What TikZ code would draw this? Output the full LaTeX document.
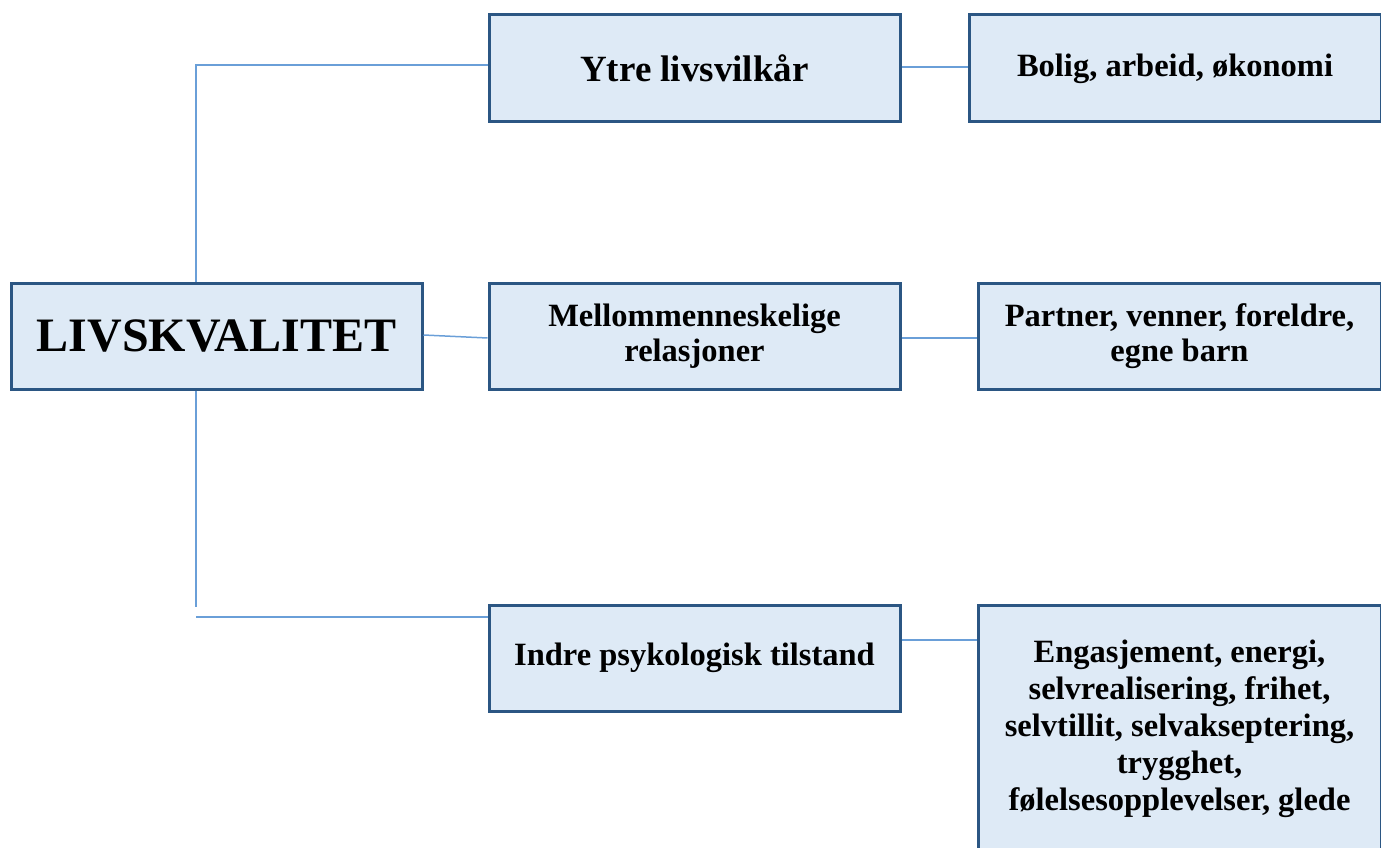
\documentclass[tikz,border=0pt]{standalone}
\usepackage{fontspec}
\setmainfont{Liberation Serif}
\definecolor{boxline}{HTML}{2B5683}
\definecolor{boxfill}{HTML}{DEEAF6}
\definecolor{linkblue}{HTML}{6A9FD8}
\tikzset{
  box/.style={rectangle,draw=boxline,fill=boxfill,line width=3pt,align=center,
    inner sep=0pt,font=\bfseries\fontsize{32.5}{35}\selectfont},
  link/.style={draw=linkblue,line width=1.5pt}
}
\begin{document}
\begin{tikzpicture}[x=1pt,y=-1pt]
        \useasboundingbox (0,0) rectangle (1381,848);

        \draw (216.5,336) node (livs) [box,minimum width=411pt,minimum height=106pt,font=\bfseries\fontsize{48}{54}\selectfont] {LIVSKVALITET};
        \draw (694.5,68.5) node (ytre) [box,minimum width=411pt,minimum height=107pt,font=\bfseries\fontsize{37}{42}\selectfont] {Ytre livsvilkår};
        \draw (694.5,336) node (mellom) [box,minimum width=411pt,minimum height=106pt] {Mellommenneskelige\\relasjoner};
        \draw (694.5,658) node (indre) [box,minimum width=411pt,minimum height=106pt] {Indre psykologisk tilstand};
        \draw (1175,68.5) node (bolig) [box,minimum width=412pt,minimum height=107pt] {Bolig, arbeid, økonomi};
        \draw (1179.5,336) node (partner) [box,minimum width=403pt,minimum height=106pt] {Partner, venner, foreldre,\\egne barn};
        \draw (1179.5,729) node (engasj) [box,minimum width=403pt,minimum height=248pt,font=\bfseries\fontsize{32.5}{37}\selectfont] {Engasjement, energi,\\selvrealisering, frihet,\\selvtillit, selvakseptering,\\trygghet,\\følelsesopplevelser, glede};

        \coordinate (stub) at (196,607);
        \coordinate (lowstart) at (196,617);

        \draw [link] ([xshift=-20.5pt]livs.north) |- ([yshift=3.5pt]ytre.west);
        \draw [link] ([xshift=-20.5pt]livs.south) -- (stub);
        \draw [link] (lowstart) -- (lowstart -| indre.west);
        \draw [link] ([yshift=1pt]livs.east) -- ([yshift=-2pt]mellom.west);

        \draw [link] ([yshift=1.5pt]ytre.east) -- ([yshift=1.5pt]ytre.east -| bolig.west);
        \draw [link] ([yshift=-2pt]mellom.east) -- ([yshift=-2pt]mellom.east -| partner.west);
        \draw [link] ([yshift=18pt]indre.east) -- ([yshift=18pt]indre.east -| engasj.west);

\end{tikzpicture}
\end{document}
